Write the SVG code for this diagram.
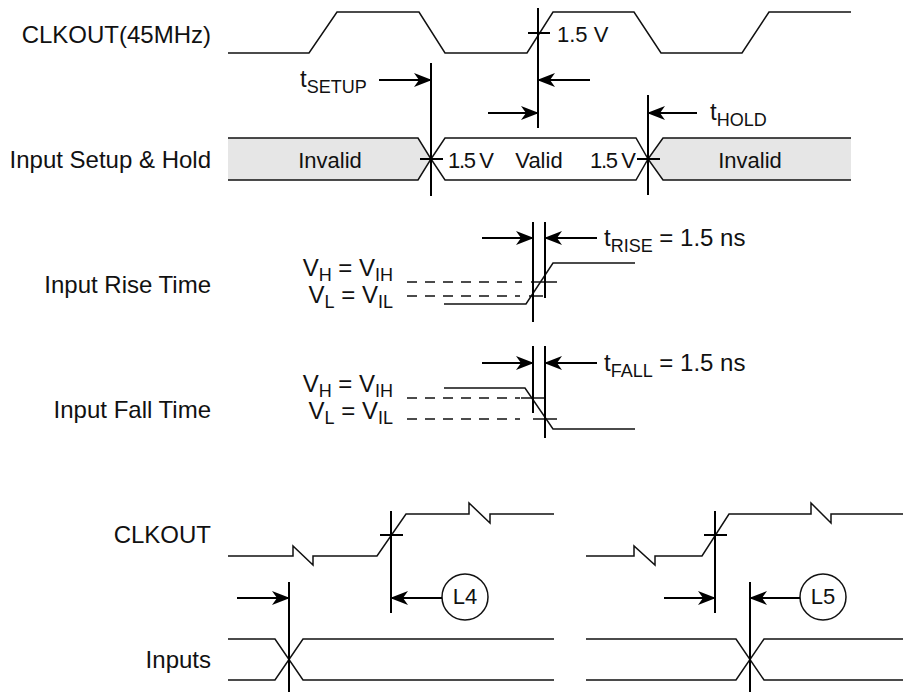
<svg xmlns="http://www.w3.org/2000/svg" width="904" height="694" viewBox="0 0 904 694">
<style>
text{font-family:"Liberation Sans",Arial,Helvetica,sans-serif;font-size:22px;fill:#111}
.lbl{font-size:24px;text-anchor:end}
.t{font-size:24px}
.sub{font-size:18px}
.w{fill:none;stroke:#111;stroke-width:1.5;stroke-linejoin:miter}
.v{fill:none;stroke:#000;stroke-width:2}
.a{fill:none;stroke:#000;stroke-width:2;marker-end:url(#ah)}
.d{fill:none;stroke:#111;stroke-width:1.5;stroke-dasharray:10 8}
.inv{fill:#e6e6e6}
.val{fill:#fff}
</style>
<defs>
<marker id="ah" viewBox="-20 -10 22 20" refX="0" refY="0" markerWidth="22" markerHeight="20" markerUnits="userSpaceOnUse" orient="auto">
<path d="M1,0 L-17,-7 L-12,0 L-17,7 Z" fill="#000"/>
</marker>
</defs>
<rect width="904" height="694" fill="#fff"/>

<g id="clkout45">
<text class="lbl" x="211" y="43">CLKOUT(45MHz)</text>
<path class="w" d="M228,53 H309 L337,12 H419 L445,53 H527 L553,12 H634 L661,53 H742 L769,12 H851"/>
<text x="557" y="42">1.5 V</text>
</g>

<g id="setuphold">
<text class="lbl" x="211" y="168">Input Setup &amp; Hold</text>
<path class="inv" d="M228,138 H418 L431,159 L418,180 H228 Z"/>
<path class="w" d="M228,138 H418 L431,159 L418,180 H228"/>
<path class="val" d="M431,159 L445,138 H636 L648,159 L636,180 H445 Z"/>
<path class="w" d="M431,159 L445,138 H636 L648,159 L636,180 H445 Z"/>
<path class="inv" d="M648,159 L663,138 H851 V180 H663 Z"/>
<path class="w" d="M851,138 H663 L648,159 L663,180 H851"/>
<text x="330" y="168" text-anchor="middle" font-size="23">Invalid</text>
<text x="448" y="168" textLength="46" lengthAdjust="spacing">1.5 V</text>
<text x="539" y="168" text-anchor="middle">Valid</text>
<text x="590" y="168" textLength="46" lengthAdjust="spacing">1.5 V</text>
<text x="750" y="168" text-anchor="middle" font-size="23">Invalid</text>
<text class="t" x="300" y="87">t<tspan class="sub" dy="6">SETUP</tspan></text>
<text class="t" x="710" y="120">t<tspan class="sub" dy="6">HOLD</tspan></text>
</g>

<g id="risetime">
<text class="lbl" x="211" y="293">Input Rise Time</text>
<text class="t" x="393" y="276" text-anchor="end">V<tspan class="sub" dy="5">H</tspan><tspan dy="-5"> = V</tspan><tspan class="sub" dy="5">IH</tspan></text>
<text class="t" x="393" y="303" text-anchor="end">V<tspan class="sub" dy="5">L</tspan><tspan dy="-5"> = V</tspan><tspan class="sub" dy="5">IL</tspan></text>
<path class="w" d="M444,304 H526 L553,263 H635"/>
<path class="d" d="M407,282 H522"/>
<path class="w" d="M531,282 H557"/>
<path class="d" d="M407,296 H520"/>
<path class="w" d="M529,296 H543"/>
<text class="t" x="604" y="246">t<tspan class="sub" dy="6">RISE</tspan><tspan dy="-6"> = 1.5 ns</tspan></text>
</g>

<g id="falltime">
<text class="lbl" x="211" y="418">Input Fall Time</text>
<text class="t" x="393" y="392" text-anchor="end">V<tspan class="sub" dy="5">H</tspan><tspan dy="-5"> = V</tspan><tspan class="sub" dy="5">IH</tspan></text>
<text class="t" x="393" y="419" text-anchor="end">V<tspan class="sub" dy="5">L</tspan><tspan dy="-5"> = V</tspan><tspan class="sub" dy="5">IL</tspan></text>
<path class="w" d="M444,388 H525 L553,429 H635"/>
<path class="d" d="M407,398 H520"/>
<path class="w" d="M521,398 H545"/>
<path class="d" d="M407,419 H520"/>
<path class="w" d="M533,419 H557"/>
<text class="t" x="604" y="371">t<tspan class="sub" dy="6">FALL</tspan><tspan dy="-6"> = 1.5 ns</tspan></text>
</g>

<g id="clkout">
<text class="lbl" x="211" y="543">CLKOUT</text>
<path class="w" d="M228,556 H293 V546 L313,565 V556 H377 L406,514 H469 V503 L490,523 V514 H554"/>
<path class="w" d="M586,556 H634 V546 L655,565 V556 H702 L729,514 H811 V503 L831,523 V514 H903"/>
</g>

<g id="inputs">
<text class="lbl" x="211" y="668">Inputs</text>
<path class="w" d="M228,639 H275 L303,680 H554 M228,680 H275 L303,639 H554"/>
<path class="w" d="M586,639 H736 L764,680 H903 M586,680 H736 L764,639 H903"/>
</g>

<g id="L4">
<circle cx="465" cy="597" r="23" fill="#fff" stroke="#111" stroke-width="1.5"/>
<text x="465" y="604" text-anchor="middle" font-size="20">L4</text>
</g>
<g id="L5">
<circle cx="823" cy="597" r="23" fill="#fff" stroke="#111" stroke-width="1.5"/>
<text x="823" y="604" text-anchor="middle" font-size="20">L5</text>
</g>

<g id="connectors">
<path class="v" d="M538,8 V128 M528,33 H550"/>
<path class="v" d="M431,63 V196 M420,159 H443"/>
<path class="v" d="M648,95 V195 M637,159 H660"/>
<path class="v" d="M533,222 V322 M545,222 V298"/>
<path class="v" d="M533,346 V413 M545,346 V438"/>
<path class="v" d="M391,511 V613 M380,535 H403"/>
<path class="v" d="M289,582 V692"/>
<path class="v" d="M715,511 V613 M704,535 H727"/>
<path class="v" d="M750,582 V692"/>
<path class="a" d="M379,80 H431"/>
<path class="a" d="M590,80 H538"/>
<path class="a" d="M488,113 H538"/>
<path class="a" d="M697,113 H648"/>
<path class="a" d="M482,238 H533"/>
<path class="a" d="M597,238 H545"/>
<path class="a" d="M482,363 H533"/>
<path class="a" d="M597,363 H545"/>
<path class="a" d="M237,598 H289"/>
<path class="a" d="M442,598 H391"/>
<path class="a" d="M664,598 H715"/>
<path class="a" d="M800,598 H750"/>
</g>
</svg>
